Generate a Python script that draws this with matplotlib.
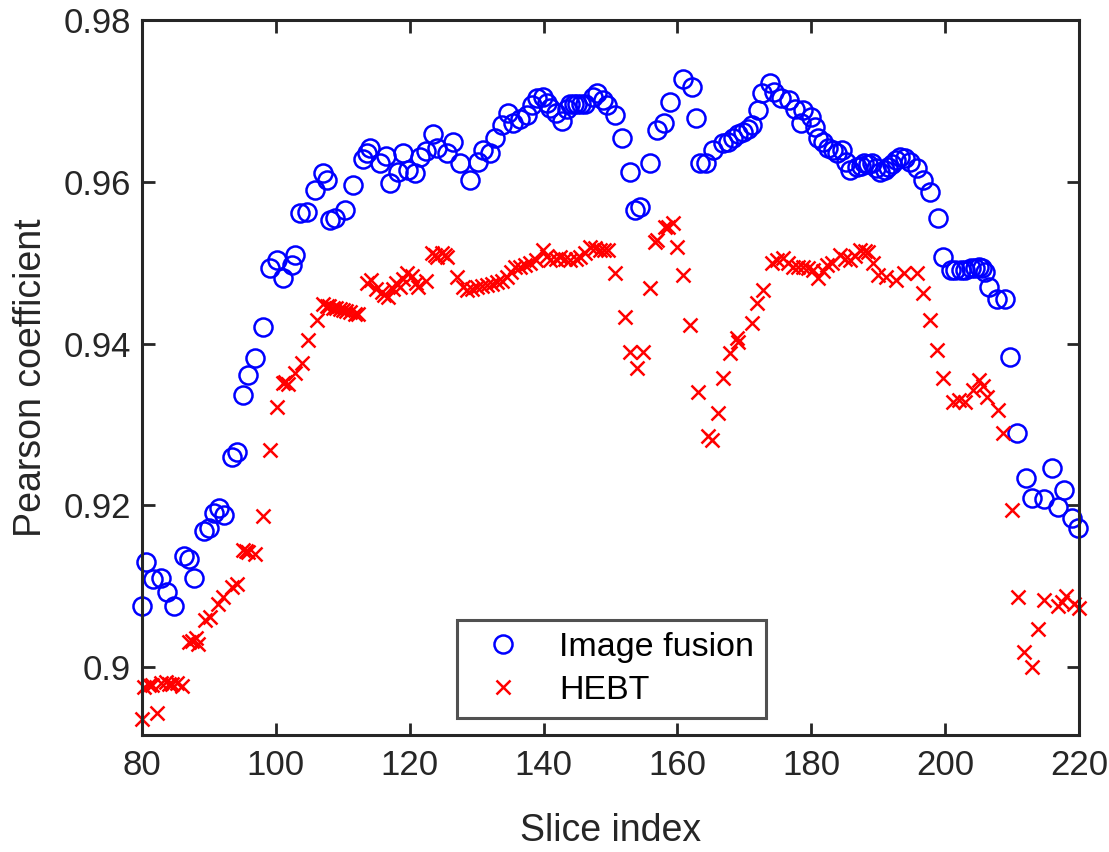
import matplotlib
matplotlib.use("Agg")
import matplotlib.pyplot as plt

plt.rcParams['font.family'] = ['Liberation Sans', 'DejaVu Sans']

# Image fusion (blue circles)
fusion_x = [80.0, 80.6, 81.6, 82.8, 83.7, 84.8, 86.3, 87.0, 87.8, 89.2, 90.0, 90.8, 91.5, 92.2,
            93.5, 94.2, 95.1, 95.8, 96.9, 98.1, 99.1, 100.2, 101.1, 102.4, 102.9, 103.6, 104.7,
            105.9, 107.1, 107.6, 108.1, 108.8, 110.3, 111.5, 113.6, 114.1, 115.6, 117.1, 119.0,
            119.8, 120.8, 121.6, 123.5, 124.1, 125.6, 127.5, 129.0, 131.0, 132.0, 132.8, 133.8,
            134.7, 135.5, 137.5, 139.0, 139.9, 141.0, 142.8, 144.0, 145.0, 146.2, 148.0, 148.9,
            150.7, 151.7, 152.9, 153.7, 154.4, 155.9, 157.0, 158.0, 158.9, 160.9, 162.2, 162.7,
            163.4, 164.2, 165.3, 166.8, 168.3, 169.8, 171.2, 172.1, 172.7, 173.9, 175.4, 176.6,
            178.4, 178.8, 179.9, 181.0, 181.8, 182.5, 183.9, 184.6, 185.8, 186.9, 187.8, 189.1,
            190.3, 191.4, 192.6, 193.3, 195.8, 196.7, 197.8, 199.0, 199.7, 200.8, 202.3, 203.8,
            205.0, 206.0, 206.5, 207.8, 209.0, 209.7, 210.8, 212.0, 213.0, 214.7, 216.0, 216.9,
            217.7, 219.0, 219.9,
            136.5, 138.3, 140.5, 141.8, 143.5, 144.6, 145.6, 147.4, 149.5, 167.5, 169.0, 170.5,
            174.5, 177.5, 180.5, 183.2, 185.2, 187.4, 188.5, 189.7, 191.0, 192.0, 194.0, 194.8,
            201.5, 203.0, 204.5, 205.5, 113.0, 116.4, 118.2, 122.5, 126.5, 130.2]
fusion_y = [0.9075, 0.9130, 0.9108, 0.9110, 0.9092, 0.9075, 0.9137, 0.9133, 0.9110, 0.9168,
            0.9172, 0.9190, 0.9197, 0.9188, 0.9260, 0.9266, 0.9336, 0.9361, 0.9382, 0.9420,
            0.9493, 0.9503, 0.9481, 0.9497, 0.9510, 0.9561, 0.9563, 0.9590, 0.9611, 0.9602,
            0.9553, 0.9556, 0.9565, 0.9596, 0.9636, 0.9642, 0.9624, 0.9599, 0.9636, 0.9615,
            0.9611, 0.9631, 0.9660, 0.9642, 0.9636, 0.9623, 0.9602, 0.9639, 0.9636, 0.9655,
            0.9670, 0.9685, 0.9673, 0.9683, 0.9704, 0.9705, 0.9692, 0.9676, 0.9697, 0.9697,
            0.9697, 0.9710, 0.9701, 0.9683, 0.9654, 0.9612, 0.9565, 0.9569, 0.9623, 0.9664,
            0.9673, 0.9699, 0.9728, 0.9717, 0.9679, 0.9623, 0.9623, 0.9639, 0.9648, 0.9655,
            0.9662, 0.9670, 0.9689, 0.9710, 0.9722, 0.9704, 0.9701, 0.9673, 0.9689, 0.9680,
            0.9655, 0.9649, 0.9642, 0.9636, 0.9640, 0.9615, 0.9618, 0.9624, 0.9623, 0.9612,
            0.9618, 0.9627, 0.9631, 0.9617, 0.9602, 0.9587, 0.9555, 0.9507, 0.9491, 0.9491,
            0.9493, 0.9495, 0.9488, 0.9470, 0.9455, 0.9455, 0.9383, 0.9289, 0.9234, 0.9209,
            0.9207, 0.9246, 0.9198, 0.9219, 0.9184, 0.9172,
            0.9678, 0.9695, 0.9698, 0.9685, 0.9690, 0.9697, 0.9697, 0.9705, 0.9695, 0.9650,
            0.9660, 0.9665, 0.9712, 0.9690, 0.9668, 0.9640, 0.9625, 0.9620, 0.9622, 0.9617,
            0.9615, 0.9622, 0.9630, 0.9625, 0.9491, 0.9491, 0.9494, 0.9493, 0.9628, 0.9632,
            0.9612, 0.9638, 0.9650, 0.9625]

# HEBT (red crosses)
hebt_x = [80.0, 80.3, 81.5, 82.2, 82.8, 83.6, 84.5, 85.3, 86.0, 87.0, 88.0, 88.4, 89.4, 90.2,
          91.4, 92.1, 93.5, 94.2, 95.1, 95.8, 96.9, 98.1, 99.1, 100.2, 101.0, 101.8, 102.9,
          103.9, 104.8, 106.2, 107.0, 107.6, 108.5, 109.6, 110.5, 111.1, 111.8, 113.6, 114.2,
          115.0, 115.9, 116.8, 118.0, 118.6, 119.6, 120.3, 121.3, 122.4, 123.3, 124.1, 124.8,
          125.6, 127.1, 128.6, 130.1, 131.6, 133.1, 134.6, 135.8, 136.5, 138.0, 139.9, 141.0,
          142.5, 144.0, 145.5, 147.0, 148.5, 149.7, 150.7, 152.2, 152.9, 153.9, 154.9, 155.9,
          156.7, 157.0, 158.2, 158.6, 159.4, 160.0, 160.9, 161.9, 163.0, 164.5, 165.2, 166.0,
          166.8, 167.9, 168.9, 169.1, 171.2, 171.9, 172.8, 174.2, 175.7, 177.3, 178.8, 180.3,
          181.0, 183.1, 184.3, 185.8, 187.3, 188.5, 190.0, 191.1, 192.6, 193.8, 195.8, 196.7,
          197.8, 198.8, 199.7, 201.2, 202.0, 204.1, 205.0, 206.3, 207.9, 208.7, 210.0, 210.9,
          211.7, 213.0, 213.9, 214.7, 216.8, 218.0, 220.0,
          108.0, 109.0, 110.0, 112.3, 128.0, 129.3, 130.8, 132.3, 133.8, 135.2, 137.2, 138.8,
          140.5, 141.8, 143.2, 144.8, 146.2, 147.7, 149.1, 174.9, 176.5, 178.0, 179.5, 181.7,
          182.4, 185.0, 186.5, 188.0, 189.2, 116.2, 117.5, 119.0, 121.0, 123.8, 125.2, 101.4,
          81.0, 84.0, 87.5, 95.5, 203.0, 205.6, 217.4, 219.2]
hebt_y = [0.8935, 0.8975, 0.8977, 0.8942, 0.8980, 0.8981, 0.8979, 0.8980, 0.8976, 0.9030,
          0.9035, 0.9028, 0.9058, 0.9062, 0.9077, 0.9086, 0.9099, 0.9102, 0.9145, 0.9142,
          0.9139, 0.9186, 0.9268, 0.9321, 0.9351, 0.9350, 0.9364, 0.9376, 0.9404, 0.9429,
          0.9449, 0.9447, 0.9444, 0.9443, 0.9440, 0.9439, 0.9437, 0.9475, 0.9479, 0.9468,
          0.9464, 0.9458, 0.9475, 0.9470, 0.9487, 0.9483, 0.9470, 0.9478, 0.9512, 0.9507,
          0.9512, 0.9507, 0.9482, 0.9466, 0.9470, 0.9472, 0.9476, 0.9482, 0.9495, 0.9495,
          0.9500, 0.9516, 0.9503, 0.9507, 0.9503, 0.9507, 0.9519, 0.9516, 0.9516, 0.9487,
          0.9433, 0.9390, 0.9370, 0.9390, 0.9469, 0.9526, 0.9528, 0.9544, 0.9544, 0.9549,
          0.9519, 0.9485, 0.9423, 0.9340, 0.9285, 0.9281, 0.9314, 0.9357, 0.9388, 0.9407,
          0.9402, 0.9425, 0.9450, 0.9466, 0.9500, 0.9506, 0.9495, 0.9495, 0.9491, 0.9481,
          0.9500, 0.9510, 0.9503, 0.9516, 0.9513, 0.9485, 0.9482, 0.9479, 0.9487, 0.9487,
          0.9462, 0.9429, 0.9392, 0.9357, 0.9328, 0.9330, 0.9343, 0.9355, 0.9334, 0.9318,
          0.9289, 0.9194, 0.9086, 0.9018, 0.8999, 0.9046, 0.9083, 0.9075, 0.9087, 0.9073,
          0.9446, 0.9444, 0.9441, 0.9437, 0.9470, 0.9468, 0.9471, 0.9474, 0.9478, 0.9488,
          0.9497, 0.9503, 0.9508, 0.9505, 0.9505, 0.9505, 0.9512, 0.9518, 0.9516, 0.9503,
          0.9500, 0.9495, 0.9493, 0.9490, 0.9497, 0.9505, 0.9508, 0.9515, 0.9500, 0.9460,
          0.9468, 0.9480, 0.9475, 0.9509, 0.9510, 0.9352, 0.8977, 0.8979, 0.9032, 0.9143,
          0.9327, 0.9348, 0.9080, 0.9077]

x_ticks = [80, 100, 120, 140, 160, 180, 200, 220]
y_ticks = [0.9, 0.92, 0.94, 0.96, 0.98]
y_tick_labels = ['0.9', '0.92', '0.94', '0.96', '0.98']

fig = plt.figure(figsize=(11.09, 8.52), dpi=100)
ax = fig.add_axes([0.128, 0.137, 0.845, 0.839])

ax.plot(fusion_x, fusion_y, linestyle='none', marker='o', markersize=13,
        markerfacecolor='none', markeredgecolor='#0000ff', markeredgewidth=1.8,
        label='Image fusion', clip_on=False)
ax.plot(hebt_x, hebt_y, linestyle='none', marker='x', markersize=10,
        color='#ff0000', markeredgewidth=1.8, label='HEBT', clip_on=False)

ax.set_xlim(80, 220)
ax.set_ylim(0.8915, 0.98)
ax.set_xticks(x_ticks)
ax.set_yticks(y_ticks)
ax.set_yticklabels(y_tick_labels)

for s in ax.spines.values():
    s.set_linewidth(2.2)
    s.set_color('#262626')
ax.tick_params(direction='in', length=9, width=2, colors='#262626',
               labelsize=25, top=True, right=True, pad=8)
ax.tick_params(axis='x', pad=10)
for lab in ax.get_xticklabels() + ax.get_yticklabels():
    lab.set_color('#262626')

ax.set_xlabel('Slice index', fontsize=27, color='#262626', labelpad=22)
ax.set_ylabel('Pearson coefficient', fontsize=27, color='#262626', labelpad=10)

leg = ax.legend(loc='lower left', bbox_to_anchor=(0.336, 0.024), borderaxespad=0,
                fontsize=24.5, frameon=True, fancybox=False,
                borderpad=0.35, handletextpad=0.65, handlelength=2.0, labelspacing=0.35)
leg.get_frame().set_edgecolor('#262626')
leg.get_frame().set_linewidth(2.2)

fig.savefig('out.png', dpi=100, facecolor='white')
